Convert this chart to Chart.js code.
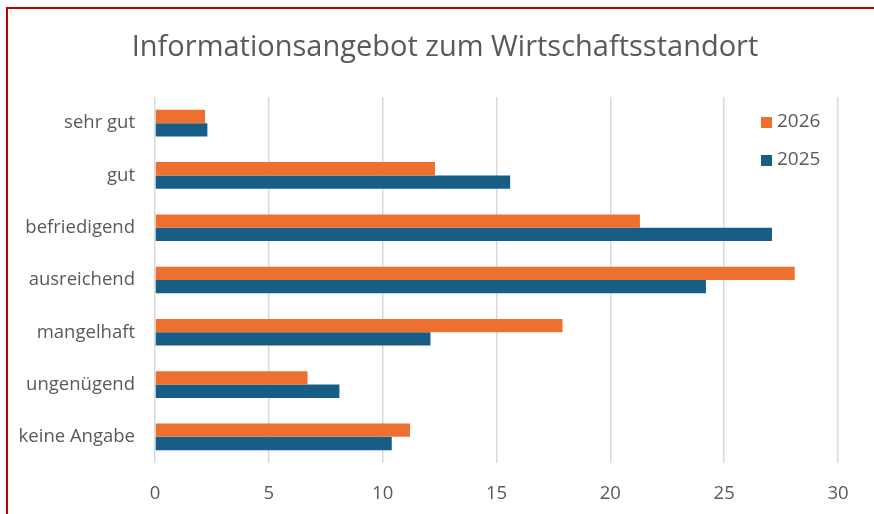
<!DOCTYPE html>
<html>
<head>
<meta charset="utf-8">
<script src="https://cdn.jsdelivr.net/npm/chart.js@4/dist/chart.umd.min.js"></script>
<style>
  html, body { margin: 0; padding: 0; background: #fff; }
  #wrap { position: relative; width: 874px; height: 514px; }
  #frame {
    position: absolute; left: 6px; top: 7px; width: 880px; height: 520px;
    border: 2px solid #c00000; pointer-events: none;
  }
</style>
</head>
<body>
<div id="wrap">
  <canvas id="myChart" width="874" height="514"></canvas>
  <div id="frame"></div>
</div>
<script>
"use strict";

// Daten
const chartTitle = 'Informationsangebot zum Wirtschaftsstandort';
const categories = ['sehr gut', 'gut', 'befriedigend', 'ausreichend', 'mangelhaft', 'ungenügend', 'keine Angabe'];
const values2026 = [2.2, 12.3, 21.3, 28.1, 17.9, 6.7, 11.2];
const values2025 = [2.3, 15.6, 27.1, 24.2, 12.1, 8.1, 10.4];
const xTicks = [0, 5, 10, 15, 20, 25, 30];

const orange = '#ED7031';
const blue = '#175E86';
const grey = '#595959';
const fontFam = "'Open Sans', sans-serif";

// Titel + Legende selbst zeichnen (Position wie im Original)
const decorations = {
    id: 'decorations',
    afterDraw(chart) {
        const ctx = chart.ctx;
        const area = chart.chartArea;
        ctx.save();
        ctx.fillStyle = grey;
        ctx.font = '29px ' + fontFam;
        ctx.textAlign = 'center';
        ctx.textBaseline = 'middle';
        ctx.fillText(chartTitle, chart.width / 2 + 8, 48);

        ctx.font = '19px ' + fontFam;
        ctx.textAlign = 'left';
        chart.data.datasets.forEach(function(ds, i) {
            const y = area.top + 25 + i * 38;
            const x = area.right - 77;
            ctx.fillStyle = ds.backgroundColor;
            ctx.fillRect(x, y - 5, 11, 11);
            ctx.fillStyle = grey;
            ctx.fillText(ds.label, x + 16, y);
        });
        ctx.restore();
    }
};

const config = {
    type: 'bar',
    data: {
        labels: categories,
        datasets: [
            { label: '2026', data: values2026, backgroundColor: orange },
            { label: '2025', data: values2025, backgroundColor: blue }
        ]
    },
    options: {
        indexAxis: 'y',
        responsive: false,
        animation: false,
        categoryPercentage: 0.51,
        barPercentage: 1.0,
        layout: { padding: { left: 0, right: 36, top: 97, bottom: 0 } },
        plugins: {
            legend: { display: false },
            tooltip: { enabled: false },
            title: { display: false }
        },
        scales: {
            x: {
                min: 0,
                max: 30,
                afterBuildTicks: function(scale) {
                    scale.ticks = xTicks.map(function(v) { return { value: v }; });
                },
                afterFit: function(scale) { scale.height = 51; },
                grid: { color: '#d9d9d9', lineWidth: 1.5, drawTicks: false },
                border: { display: false },
                ticks: { color: grey, padding: 20, font: { family: fontFam, size: 18.5 } }
            },
            y: {
                grid: { display: false },
                border: { display: false },
                afterFit: function(scale) { scale.width = 155; },
                ticks: { color: grey, padding: 12, font: { family: fontFam, size: 18.5 } }
            }
        }
    },
    plugins: [decorations]
};

new Chart(document.getElementById('myChart'), config);
</script>
</body>
</html>
